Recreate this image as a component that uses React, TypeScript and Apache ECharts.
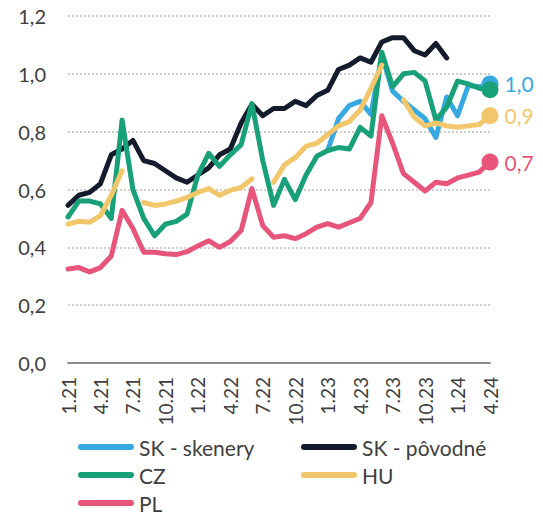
import React, { useEffect, useRef } from "react";
import * as echarts from "echarts";

const categories = [
  "1.21","2.21","3.21","4.21","5.21","6.21","7.21","8.21","9.21","10.21","11.21","12.21",
  "1.22","2.22","3.22","4.22","5.22","6.22","7.22","8.22","9.22","10.22","11.22","12.22",
  "1.23","2.23","3.23","4.23","5.23","6.23","7.23","8.23","9.23","10.23","11.23","12.23",
  "1.24","2.24","3.24","4.24",
];

const skSkenery: (number | null)[] = [
  null,null,null,null,null,null,null,null,null,null,null,null,
  null,null,null,null,null,null,null,null,null,null,null,null,
  0.735,0.845,0.89,0.905,0.86,1.065,0.94,0.905,0.875,0.845,0.78,0.92,
  0.855,0.96,0.955,0.965,
];

const skPovodne: (number | null)[] = [
  0.545,0.58,0.59,0.62,0.72,0.74,0.77,0.70,0.69,0.665,0.64,0.625,
  0.65,0.675,0.72,0.74,0.83,0.895,0.855,0.88,0.88,0.905,0.89,0.925,
  0.943,1.015,1.03,1.055,1.04,1.11,1.125,1.125,1.08,1.065,1.105,1.055,
  null,null,null,null,
];

const cz: (number | null)[] = [
  0.505,0.56,0.56,0.55,0.50,0.84,0.60,0.50,0.44,0.48,0.49,0.515,
  0.65,0.725,0.68,0.72,0.755,0.897,0.70,0.545,0.635,0.565,0.65,0.715,
  0.735,0.745,0.74,0.815,0.785,1.075,0.955,1.0,1.005,0.975,0.84,0.885,
  0.975,0.965,0.95,0.945,
];

const hu: (number | null)[] = [
  0.48,0.49,0.487,0.51,0.58,0.665,null,0.555,0.545,0.55,0.56,0.572,
  0.59,0.603,0.58,0.597,0.607,0.637,null,0.625,0.685,0.71,0.75,0.76,
  0.79,0.82,0.835,0.875,0.95,1.03,null,0.91,0.85,0.82,0.83,0.82,
  0.815,0.82,0.825,0.855,
];

const pl: (number | null)[] = [
  0.325,0.33,0.315,0.33,0.37,0.528,0.465,0.383,0.383,0.378,0.375,0.385,
  0.405,0.423,0.40,0.42,0.458,0.603,0.475,0.435,0.44,0.43,0.447,0.47,
  0.482,0.47,0.485,0.5,0.555,0.855,0.76,0.655,0.625,0.595,0.625,0.62,
  0.64,0.65,0.66,0.695,
];

const FONT = "Lato";
const fmt = (v: number) => v.toFixed(1).replace(".", ",");

const PILL = "path://M3,0 H53 A3,3 0 0 1 53,6 H3 A3,3 0 0 1 3,0 Z";

function makeSeries(
  name: string,
  values: (number | null)[],
  color: string,
  endDot: boolean,
  endLabel: boolean
) {
  const last = values.length - 1;
  const data = values.map((v, i) => {
    if (i === last && endDot && v != null) {
      return {
        value: v,
        symbol: "circle",
        symbolSize: 17,
        itemStyle: { color },
        label: {
          show: endLabel,
          position: "right",
          distance: 6,
          formatter: (p: any) => fmt(p.value),
          color,
          fontSize: 21,
          fontFamily: FONT,
        },
      };
    }
    return v;
  });
  return {
    name,
    type: "line",
    data,
    symbol: "none",
    connectNulls: false,
    lineStyle: { color, width: 5, join: "round", cap: "round" },
    itemStyle: { color },
    emphasis: { disabled: true },
  };
}

export default function App() {
  const ref = useRef<HTMLDivElement>(null);
  useEffect(() => {
    if (!ref.current) return;
    const chart = echarts.init(ref.current, undefined, { renderer: "svg" });
    const legendText = { fontSize: 21, fontFamily: FONT, color: "#404040", lineHeight: 22 };
    const legendBase = {
      orient: "vertical",
      top: 436,
      padding: 0,
      height: 82,
      itemWidth: 56,
      itemHeight: 6,
      itemGap: 6,
      icon: PILL,
      textStyle: legendText,
      selectedMode: false,
    };
    chart.setOption({
      animation: false,
      backgroundColor: "#ffffff",
      textStyle: { fontFamily: FONT },
      grid: { left: 68, right: 53, top: 16, bottom: 155 },
      legend: [
        { ...legendBase, data: ["SK - skenery", "CZ", "PL"], left: 78 },
        { ...legendBase, data: ["SK - pôvodné", "HU"], left: 301 },
      ],
      xAxis: {
        type: "category",
        data: categories,
        boundaryGap: false,
        axisLine: { lineStyle: { color: "#8c8c8c", width: 2 } },
        axisTick: { show: false },
        axisLabel: {
          interval: 2,
          rotate: 90,
          margin: 14,
          fontSize: 19,
          fontFamily: FONT,
          color: "#404040",
        },
        splitLine: { show: false },
      },
      yAxis: {
        type: "value",
        min: 0,
        max: 1.2,
        interval: 0.2,
        axisLine: { show: false },
        axisTick: { show: false },
        axisLabel: {
          formatter: (v: number) => fmt(v),
          fontSize: 20,
          fontFamily: FONT,
          color: "#404040",
          margin: 22,
        },
        splitLine: { lineStyle: { type: "dotted", color: "#cfcfcf", width: 2 } },
      },
      series: [
        makeSeries("SK - skenery", skSkenery, "#36A9E1", true, true),
        makeSeries("SK - pôvodné", skPovodne, "#141B2D", false, false),
        makeSeries("CZ", cz, "#18A079", true, false),
        makeSeries("HU", hu, "#F2C76B", true, true),
        makeSeries("PL", pl, "#E8557A", true, true),
      ],
    });
    return () => chart.dispose();
  }, []);
  return (
    <div
      ref={ref}
      style={{ position: "fixed", left: 0, top: 0, width: 543, height: 518, background: "#fff" }}
    />
  );
}
